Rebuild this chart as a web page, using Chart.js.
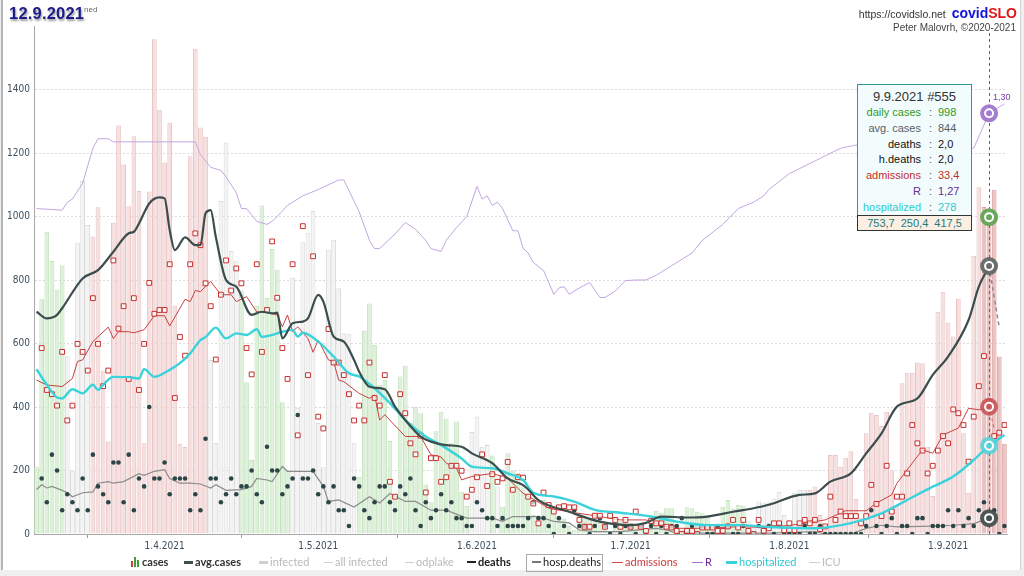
<!DOCTYPE html>
<html>
<head>
<meta charset="utf-8">
<title>covidSLO 12.9.2021</title>
<script src="https://cdn.jsdelivr.net/npm/chart.js@4.4.1/dist/chart.umd.min.js"></script>
<style>
  html, body { margin: 0; padding: 0; }
  body { width: 1024px; height: 576px; background: #efefef; position: relative; overflow: hidden;
         font-family: 'Liberation Sans', Arial, sans-serif; }
  #card { position: absolute; left: 1px; top: 0; width: 1017px; height: 570px; background: #fff;
          border-left: 2px solid #b5b5b5; border-right: 1px solid #d3d3d3; }
  #chart { position: absolute; left: 0; top: 0; }
  .abs { position: absolute; white-space: nowrap; }
  #day { left: 9px; top: 4px; font: bold 16.5px 'Liberation Sans', sans-serif; color: #1b1b8a;
         text-shadow: 1px 2px 2px #a0a0a0; letter-spacing: 0.2px; }
  #dow { left: 84px; top: 5px; font-size: 8px; color: #666; }
  #site { right: 7px; top: 5px; font-size: 10.5px; color: #333; text-align: right; }
  #site b { font-size: 14px; }
  #author { right: 8px; top: 22px; font-size: 10px; color: #444; }
  #tip { left: 857px; top: 84px; width: 113px; height: 130px; background: #f2fcfc; border: 1px solid #2a9a9a; }
  #tip .tt { position: absolute; left: 0; right: 0; top: 4px; text-align: center; font-size: 13px; color: #333; }
  #tip .row { position: absolute; left: 0; width: 113px; height: 15px; font-size: 11px; line-height: 15px; }
  #tip .k { position: absolute; right: 50px; text-align: right; }
  #tip .c { position: absolute; left: 71px; color: #555; }
  #tip .v { position: absolute; left: 80px; }
  #tipFoot { left: 857px; top: 215px; width: 113px; height: 14px; background: #fbeee3; border: 1px solid #333;
             font-size: 11px; line-height: 14px; color: #1c7c7c; text-align: center; word-spacing: 3px; }
  #rlab { font-size: 9px; color: #7a3aa8; }
  .lg { position: absolute; top: 555px; height: 15px; line-height: 15px; font: 11px Lato, 'Open Sans', sans-serif; white-space: nowrap; }
  .sw { display: inline-block; width: 9px; height: 2px; vertical-align: middle; margin-right: 2px; position: relative; top: -1px; }
  .ico { display: inline-block; width: 9px; height: 10px; vertical-align: middle; margin-right: 2px; position: relative; top: -1px; }
  .ico i { position: absolute; bottom: 0; width: 2px; }
</style>
</head>
<body>
<div id="card"></div>
<canvas id="chart" width="1024" height="570"></canvas>

<div class="abs" id="day">12.9.2021</div>
<div class="abs" id="dow">ned</div>
<div class="abs" id="site">https://covidslo.net&nbsp; <b style="color:#1212e0">covid</b><b style="color:#e01818">SLO</b></div>
<div class="abs" id="author">Peter Malovrh, ©2020-2021</div>
<div class="abs" id="tip"></div>
<div class="abs" id="tipFoot"></div>
<div class="abs" id="rlab"></div>

<span class="lg" style="left:131px;color:#333;font-weight:bold"><span class="ico"><i style="left:0;height:6px;background:#d23c3c"></i><i style="left:3px;height:10px;background:#3aa03a"></i><i style="left:6px;height:7px;background:#3aa03a"></i></span>cases</span>
<span class="lg" style="left:184px;color:#333;font-weight:bold"><span class="sw" style="height:3px;background:#3d4f4f"></span>avg.cases</span>
<span class="lg" style="left:259px;color:#b9b9b9"><span class="sw" style="height:3px;background:#cfcfcf"></span>infected</span>
<span class="lg" style="left:324px;color:#b9b9b9"><span class="sw" style="background:#cfcfcf;height:1px"></span>all infected</span>
<span class="lg" style="left:405px;color:#b9b9b9"><span class="sw" style="background:#cfcfcf;height:1px"></span>odplake</span>
<span class="lg" style="left:467px;color:#222;font-weight:bold"><span class="sw" style="background:#222"></span>deaths</span>
<span class="lg" style="left:526px;top:554px;height:16px;width:75px;border:1px solid #aaa;color:#222"><span class="sw" style="background:#777;margin-left:5px"></span>hosp.deaths</span>
<span class="lg" style="left:612px;color:#cc3b3b"><span class="sw" style="width:11px;height:1px;background:#d24a4a"></span>admissions</span>
<span class="lg" style="left:692px;color:#6a2a9a"><span class="sw" style="width:11px;height:1px;background:#a070d0"></span>R</span>
<span class="lg" style="left:726px;color:#2fc7d0"><span class="sw" style="width:11px;height:3px;background:#3ad2da"></span>hospitalized</span>
<span class="lg" style="left:809px;color:#bdbdbd"><span class="sw" style="width:11px;height:1px;background:#cfcfcf"></span>ICU</span>

<script>
// first day of the series (day index 0)
const START = new Date(Date.UTC(2021, 2, 7));
const MARK_DAY = 186; // 9.9.2021
const monthStarts = ['2021-04-01', '2021-05-01', '2021-06-01', '2021-07-01', '2021-08-01', '2021-09-01'];

// daily confirmed cases, one value per day from 7.3.2021
const cases = [
  210, 739, 952, 860, 769, 846, 560, 200, 918, 1112,
  973, 937, 1029, 515, 291, 980, 1287, 1164, 1032, 1253,
  1080, 286, 1079, 1558, 1336, 1170, 1295, 719, 284, 274,
  1190, 1528, 1280, 1251, 548, 287, 1049, 1233, 891, 859,
  767, 478, 233, 719, 1035, 743, 898, 832, 415, 200,
  807, 398, 919, 949, 1017, 350, 210, 895, 927, 774,
  632, 629, 286, 180, 640, 726, 595, 470, 485, 293,
  120, 496, 530, 350, 400, 380, 156, 100, 324, 385,
  364, 286, 354, 133, 88, 321, 370, 275, 280, 247,
  150, 86, 254, 200, 191, 150, 123, 60, 30, 107,
  86, 76, 55, 49, 25, 12, 60, 50, 45, 40,
  35, 20, 8, 35, 40, 38, 35, 30, 22, 10,
  55, 73, 67, 81, 81, 30, 12, 84, 81, 70,
  65, 60, 28, 14, 86, 107, 80, 91, 90, 40,
  18, 102, 97, 100, 112, 133, 60, 25, 130, 139,
  139, 139, 150, 60, 30, 249, 249, 212, 240, 261,
  110, 50, 317, 382, 375, 340, 385, 200, 90, 475,
  508, 508, 540, 538, 275, 120, 700, 763, 666, 622,
  741, 317, 130, 876, 1092, 1030, 998, 1084, 559, 284
];

// daily deaths
const deaths = [
  null, 7, 4, 10, 8, 3, 5, 4, 3, 7,
  3, 10, 6, 5, 4, 9, 9, 4, 10, 3,
  7, 6, 16, 7, 7, 9, 5, 7, 7, 7,
  3, 5, 3, 12, 7, 7, 4, 5, 7, 5,
  6, 6, 8, 5, 4, 11, 8, 8, 5, 6,
  7, 15, 7, 7, 8, 5, 6, 4, 6, 3,
  3, 1, 7, 6, 3, 2, 4, 6, 6, 4,
  3, 6, 5, 7, 3, 1, 4, 2, 3, 5,
  3, 4, 2, 2, 1, 1, 4, 3, 2, 2,
  1, 2, 1, 1, 1, 1, 2, 4, 2, 2,
  1, 0, 2, 1, 0, 3, 1, 1, 0, 1,
  2, 1, 0, 1, 0, 1, 1, 0, 1, 0,
  1, 0, 1, 0, 1, 1, 2, 0, 1, 0,
  1, 0, 0, 1, 0, 1, 0, 0, 1, 0,
  0, 1, 0, 1, 0, 1, 0, 0, 0, 0,
  1, 0, 0, 1, 0, 0, 0, 0, 0, 0,
  0, 0, 1, 3, 1, 0, 1, 2, 0, 1,
  1, 0, 2, 2, 0, 1, 1, 1, 3, 1,
  3, 1, 2, 1, 3, 4, 2, 3, 0, 1
];

// daily hospital admissions
const admissions = [
  null, 48.8, 37.8, 36.7, 33.7, 47.8, 29.8, 33.7, 49.9, 47.8,
  42.9, 61.9, 49.9, 38.8, 42.9, 71.8, 53.9, 59.8, 40.7, 61.9,
  37.8, 49.9, 65.9, 57.8, 58.8, 58.8, 70.8, 35.7, 51.7, 46.8,
  70.8, 78.9, 75.8, 65.8, 59.8, 45.8, 62.8, 71.8, 63.9, 69.7,
  65.8, 48.8, 41.9, 70.8, 47.8, 58.8, 76.8, 62, 48.8, 40.7,
  70.8, 25.9, 80.8, 41.7, 72.9, 30.8, 27.7, 53.8, 45, 45,
  41.7, 36.7, 29.8, 33.7, 29.8, 45, 35.7, 33.7, 41.7, 13.7,
  9.8, 36.7, 31.7, 23.8, 20.9, 25.8, 10.9, 19.9, 19.9, 13.7,
  14.9, 17.9, 17.9, 16.6, 9.8, 11.6, 14.9, 20.9, 12.6, 15.7,
  13.7, 14.6, 18.9, 11.6, 14.9, 14.8, 9.8, 8, 2.8, 10.9,
  7.6, 5.9, 7, 7.3, 7, 7, 3.7, 1.9, 1.9, 4.8,
  4.8, 1.9, 4.8, 3.7, 1.9, 3.7, 1.9, 5.9, 1.9, 0.8,
  3.4, 2.8, 2.8, 1.9, 1.7, 0.8, 0, 0.8, 0.8, 0,
  1.7, 1.7, 1.7, 0.8, 0.8, 2, 3.7, 1.7, 3.7, 0.8,
  0, 3.7, 0.8, 1.5, 2.8, 2.8, 1, 2.8, 1, 2.8,
  3.7, 2.8, 3.7, 1.3, 2, 9.8, 3.7, 5.9, 4.7, 4.7,
  4.7, 2.8, 4.7, 12.9, 7.9, 4.7, 17.9, 5.9, 9.8, 9.8,
  15.9, 28.6, 23.8, 21.9, 15.9, 17.9, 21.9, 25.7, 23.8, 32.7,
  31.7, 28.6, 19, 30.8, 38.8, 46.7, 34.7, 25.7, 26.6, 28.6
];

// 7-day average of cases (read at turning points)
const avgDays = [0, 2, 4, 5, 9, 12, 15, 18, 19, 20, 22, 24, 25, 26, 27, 29, 31, 32, 33, 34, 35, 37, 39, 42, 44, 46, 47, 48, 50, 52, 53, 55, 56, 58, 60, 62, 63, 65, 68, 70, 72, 75, 77, 80, 83, 85, 89, 92, 95, 96, 98, 104, 110, 116, 119, 122, 127, 131, 136, 140, 143, 149, 152, 155, 159, 162, 165, 168, 172, 175, 178, 182, 184, 186];
const avgVals = [700, 679, 690, 711, 805, 831, 889, 947, 952, 978, 1041, 1060, 1057, 957, 894, 934, 910, 910, 1010, 1020, 936, 800, 779, 690, 700, 695, 697, 616, 664, 669, 679, 753, 732, 622, 606, 548, 511, 464, 456, 401, 359, 307, 291, 280, 275, 254, 223, 175, 154, 140, 107, 70, 39, 28, 35, 55, 52, 55, 70, 81, 92, 123, 128, 165, 191, 254, 317, 401, 427, 501, 559, 674, 779, 844];
const avgTailDays = [186, 187, 188];
const avgTailVals = [844, 745, 650];

// patients in hospital
const hospDays = [0, 2, 4, 5, 7, 9, 11, 12, 13, 15, 18, 20, 21, 23, 26, 28, 30, 32, 33, 35, 37, 39, 41, 43, 44, 46, 48, 50, 51, 52, 55, 58, 61, 63, 66, 69, 72, 76, 79, 83, 85, 89, 92, 95, 97, 101, 105, 109, 114, 120, 125, 131, 137, 143, 152, 159, 165, 170, 175, 179, 183, 186, 189];
const hospVals = [519, 470, 430, 427, 456, 443, 470, 454, 470, 495, 494, 490, 519, 495, 517, 538, 569, 611, 620, 650, 616, 632, 627, 645, 621, 627, 637, 643, 622, 634, 606, 559, 506, 496, 459, 412, 359, 307, 280, 238, 212, 207, 191, 170, 130, 118, 102, 76, 67, 55, 39, 28, 28, 22, 18, 34, 65, 107, 149, 181, 233, 278, 312];

// average daily admissions
const admAvgDays = [0, 2, 5, 7, 8, 9, 11, 14, 15, 16, 18, 19, 21, 23, 25, 26, 29, 30, 31, 32, 34, 36, 38, 39, 41, 43, 45, 47, 48, 49, 50, 51, 53, 54, 55, 57, 58, 59, 60, 63, 65, 66, 67, 68, 72, 75, 77, 79, 80, 82, 83, 85, 89, 92, 95, 100, 104, 109, 114, 119, 124, 130, 137, 143, 149, 154, 158, 162, 164, 167, 168, 171, 173, 175, 177, 180, 182, 184, 186];
const admAvgVals = [40.4, 39.1, 38.7, 40.8, 45.3, 45.7, 50.5, 54.3, 51.3, 53.1, 53.1, 52.8, 53.6, 57.3, 57.3, 54.6, 61.6, 61.0, 63.9, 63.6, 66.3, 62.8, 62.8, 61.0, 62.3, 58.3, 58.1, 57.5, 54.4, 57.5, 53.1, 54.4, 51.3, 47.7, 50.9, 45.7, 45.3, 40.4, 40.0, 36.9, 35.6, 36.5, 29.9, 31.3, 25.6, 25.6, 20.8, 20.2, 18.6, 17.3, 14.2, 15.1, 15.9, 14.6, 10.7, 6.8, 5.8, 4.8, 3.7, 3.7, 1.5, 1.5, 1.9, 1.7, 2.6, 3.7, 6.1, 6.1, 8.1, 10.3, 13.3, 18.6, 22.1, 21.2, 26.0, 27.8, 33.0, 32.6, 33.4];
const admTailDays = [186, 187];
const admTailVals = [33.4, 27.5];

// average hospital deaths
const hDeathDays = [0, 1, 2, 3, 5, 6, 7, 9, 11, 12, 14, 15, 17, 20, 21, 23, 25, 26, 28, 30, 32, 34, 35, 37, 40, 42, 43, 45, 46, 48, 49, 54, 56, 57, 59, 62, 65, 67, 69, 72, 74, 77, 80, 84, 89, 91, 93, 95, 98, 101, 104, 106, 109, 114, 117, 121, 123, 125, 143, 152, 154, 159, 162, 165, 168, 175, 179, 183, 186];
const hDeathVals = [5.6, 6.2, 5.8, 6.0, 5.5, 5.2, 4.7, 5.2, 5.3, 6.4, 6.6, 6.4, 6.6, 7.6, 7.4, 7.9, 8.1, 7.0, 6.4, 6.4, 6.3, 5.8, 6.2, 5.5, 5.6, 6.0, 7.0, 6.8, 6.6, 8.5, 7.9, 7.9, 6.0, 4.1, 4.3, 3.4, 4.7, 3.9, 5.1, 4.1, 4.1, 3.0, 3.0, 2.0, 2.0, 1.6, 2.2, 2.2, 2.2, 1.6, 1.4, 0.5, 0.3, 0.3, 0.5, 0.7, 0.5, 0.1, 0.1, 0.3, 0, 0, 0.7, 1.1, 0.9, 1.0, 1.1, 1.3, 2.0];

// reproduction number R
const rDays = [0, 5, 6, 7, 9, 11, 12, 14, 15, 31, 32, 34, 36, 37, 39, 40, 41, 43, 45, 46, 47, 49, 50, 52, 55, 59, 60, 63, 65, 66, 67, 70, 72, 74, 76, 77, 79, 80, 82, 84, 86, 87, 88, 89, 90, 91, 93, 94, 95, 96, 97, 99, 101, 102, 103, 104, 106, 108, 109, 110, 111, 113, 115, 117, 119, 121, 123, 125, 128, 130, 134, 137, 140, 142, 143, 147, 152, 157, 160, 183, 186, 189];
const rVals = [1.00, 0.995, 1.02, 1.03, 1.08, 1.19, 1.22, 1.22, 1.21, 1.21, 1.17, 1.13, 1.12, 1.10, 1.05, 1.00, 1.00, 0.96, 0.95, 0.96, 0.975, 1.01, 1.02, 1.04, 1.06, 1.09, 1.09, 0.99, 0.90, 0.874, 0.874, 0.92, 0.956, 0.935, 0.90, 0.874, 0.865, 0.90, 0.94, 0.975, 1.07, 1.03, 1.04, 1.01, 1.02, 1.00, 0.93, 0.93, 0.875, 0.86, 0.83, 0.805, 0.73, 0.75, 0.754, 0.73, 0.75, 0.767, 0.744, 0.72, 0.72, 0.74, 0.773, 0.775, 0.775, 0.79, 0.81, 0.83, 0.86, 0.90, 0.95, 1.00, 1.02, 1.04, 1.06, 1.11, 1.15, 1.19, 1.20, 1.19, 1.30, 1.33];

// info box for the marked day
const tipTitle = '9.9.2021 #555';
const tipLabels = ['daily cases', 'avg. cases', 'deaths', 'h.deaths', 'admissions', 'R', 'hospitalized'];
const tipValues = ['998', '844', '2,0', '2,0', '33,4', '1,27', '278'];
const tipFooter = ['753,7', '250,4', '417,5'];

// plotting factors used by the site to share one axis
const DEATH_F = 25;
const ADM_F = 12;

const pts = (days, vals, f = 1) => days.map((d, i) => ({ x: d, y: vals[i] * f }));
const daily = (vals, f = 1) => vals.map((v, i) => v == null ? null : { x: i, y: v * f }).filter(p => p);
const dayOf = s => Math.round((Date.parse(s + 'T00:00:00Z') - START) / 864e5);
const fmt = d => { const t = new Date(START.getTime() + d * 864e5); return t.getUTCDate() + '.' + (t.getUTCMonth() + 1) + '.' + t.getUTCFullYear(); };
const at = (days, vals, d) => {
  if (d <= days[0]) return vals[0];
  for (let i = 1; i < days.length; i++) {
    if (d <= days[i]) return vals[i - 1] + (vals[i] - vals[i - 1]) * (d - days[i - 1]) / (days[i] - days[i - 1]);
  }
  return vals[vals.length - 1];
};

// bar tone follows the R line: falling / flat / growing / fast growing
function tone(i, border) {
  const r = at(rDays, rVals, i);
  if (r >= 1.25) return border ? '#dba6a6' : '#ecc1c1';
  if (r >= 1.14) return border ? '#e8c4c4' : '#f7dfdf';
  if (r > 1.01) return border ? '#d9d9d9' : '#f4f4f4';
  return border ? '#c3e2bd' : '#ddf0d9';
}

const monthDays = monthStarts.map(dayOf);

const tickFont = { family: "'Liberation Sans Narrow', 'DejaVu Sans Condensed', sans-serif", size: 10 };

const marks = {
  id: 'marks',
  afterDatasetsDraw(chart) {
    const { ctx, chartArea, scales: { x, y, yR } } = chart;
    const px = x.getPixelForValue(MARK_DAY);
    ctx.save();
    ctx.setLineDash([3, 3]);
    ctx.strokeStyle = '#666';
    ctx.lineWidth = 1;
    ctx.beginPath();
    ctx.moveTo(Math.round(px) + 0.5, 33);
    ctx.lineTo(Math.round(px) + 0.5, chartArea.bottom);
    ctx.stroke();
    ctx.setLineDash([]);
    const rNow = at(rDays, rVals, MARK_DAY);
    const rings = [
      [yR.getPixelForValue(rNow), 'rgba(160,118,206,0.95)'],
      [y.getPixelForValue(cases[MARK_DAY]), 'rgba(98,166,86,0.95)'],
      [y.getPixelForValue(at(avgDays, avgVals, MARK_DAY)), 'rgba(100,104,104,0.95)'],
      [y.getPixelForValue(at(admAvgDays, admAvgVals, MARK_DAY) * ADM_F), 'rgba(200,80,80,0.85)'],
      [y.getPixelForValue(at(hospDays, hospVals, MARK_DAY)), 'rgba(80,210,218,0.85)'],
      [y.getPixelForValue(at(hDeathDays, hDeathVals, MARK_DAY) * DEATH_F), 'rgba(70,80,80,0.95)']
    ];
    rings.forEach(([py, col]) => {
      ctx.beginPath();
      ctx.arc(px, py, 9, 0, Math.PI * 2);
      ctx.fillStyle = col;
      ctx.fill();
      ctx.beginPath();
      ctx.arc(px, py, 4, 0, Math.PI * 2);
      ctx.strokeStyle = '#fff';
      ctx.lineWidth = 2;
      ctx.stroke();
    });
    ctx.restore();
    const lab = document.getElementById('rlab');
    lab.textContent = rNow.toFixed(2).replace('.', ',');
    lab.style.left = (px + 4) + 'px';
    lab.style.top = (yR.getPixelForValue(rNow) - 21) + 'px';
  }
};

new Chart(document.getElementById('chart'), {
  type: 'bar',
  data: {
    datasets: [
      {
        type: 'line', label: 'avg proj', data: pts(avgTailDays, avgTailVals),
        borderColor: '#8a8f8f', borderWidth: 1.5, borderDash: [4, 3], pointRadius: 0, order: 1
      },
      {
        type: 'line', label: 'adm proj', data: pts(admTailDays, admTailVals, ADM_F),
        borderColor: '#c86060', borderWidth: 1, borderDash: [3, 3], pointRadius: 0, order: 1
      },
      {
        type: 'line', label: 'avg.cases', data: pts(avgDays, avgVals),
        borderColor: '#3b4d4d', borderWidth: 2.2, pointRadius: 0, cubicInterpolationMode: 'monotone', order: 2
      },
      {
        type: 'line', label: 'hospitalized', data: pts(hospDays, hospVals),
        borderColor: '#3ad3db', borderWidth: 2.4, pointRadius: 0, cubicInterpolationMode: 'monotone', order: 3
      },
      {
        type: 'line', label: 'admissions', data: daily(admissions, ADM_F), showLine: false,
        pointStyle: 'rect', pointRadius: 3.4, pointBorderWidth: 1,
        pointBorderColor: '#c8302e', pointBackgroundColor: 'rgba(255,255,255,0.7)', order: 4
      },
      {
        type: 'line', label: 'admissions avg', data: pts(admAvgDays, admAvgVals, ADM_F),
        borderColor: '#c84040', borderWidth: 1, pointRadius: 0, order: 5
      },
      {
        type: 'line', label: 'deaths', data: daily(deaths, DEATH_F), showLine: false,
        pointRadius: 2.3, pointBorderWidth: 0, pointBackgroundColor: '#2c4646', order: 6
      },
      {
        type: 'line', label: 'hosp.deaths', data: pts(hDeathDays, hDeathVals, DEATH_F),
        borderColor: '#8c8c8c', borderWidth: 1.2, pointRadius: 0, order: 7
      },
      {
        type: 'line', label: 'R', data: pts(rDays, rVals), yAxisID: 'yR',
        borderColor: '#c2a6e0', borderWidth: 1, pointRadius: 0, order: 8
      },
      {
        label: 'cases', data: daily(cases),
        backgroundColor: cases.map((v, i) => tone(i, false)),
        borderColor: cases.map((v, i) => tone(i, true)),
        borderWidth: 1, barPercentage: 0.92, categoryPercentage: 1, order: 10
      }
    ]
  },
  options: {
    responsive: false,
    animation: false,
    devicePixelRatio: 1,
    layout: { padding: { top: 26, right: 17, left: 0, bottom: 0 } },
    plugins: { legend: { display: false }, tooltip: { enabled: false } },
    scales: {
      x: {
        type: 'linear', min: -0.5, max: 189.5, offset: false,
        afterBuildTicks: s => { s.ticks = monthDays.map(v => ({ value: v })); },
        afterFit: s => { s.height = 36; },
        ticks: { callback: v => fmt(v), font: tickFont, color: '#3b4f5e', maxRotation: 0, autoSkip: false, padding: 2 },
        grid: { drawOnChartArea: false, tickLength: 4, color: '#9a9a9a' },
        border: { color: '#a8a8a8' }
      },
      y: {
        min: 0, max: 1600,
        afterFit: s => { s.width = 34; },
        ticks: { stepSize: 200, callback: v => v === 1600 ? '' : v, font: tickFont, color: '#3b4f5e', padding: 4 },
        grid: { drawTicks: false, color: c => (c.tick && c.tick.value === 1600) ? 'rgba(0,0,0,0)' : '#dadada' },
        border: { color: '#a8a8a8', dash: [2, 2] }
      },
      yR: { display: false, min: -0.025, max: 1.575 }
    }
  },
  plugins: [marks]
});

// info box
const tipColors = ['#2b9a2b', '#56606a', '#111', '#111', '#c0302a', '#6a2a9a', '#30c8d0'];
const tip = document.getElementById('tip');
let html = '<div class="tt">' + tipTitle + '</div>';
tipLabels.forEach((l, i) => {
  html += '<div class="row" style="top:' + (20 + i * 15.8) + 'px">' +
    '<span class="k" style="color:' + tipColors[i] + '">' + l + '</span>' +
    '<span class="c">:</span>' +
    '<span class="v" style="color:' + tipColors[i] + '">' + tipValues[i] + '</span></div>';
});
tip.innerHTML = html;
document.getElementById('tipFoot').textContent = tipFooter.join('  ');
</script>
</body>
</html>
